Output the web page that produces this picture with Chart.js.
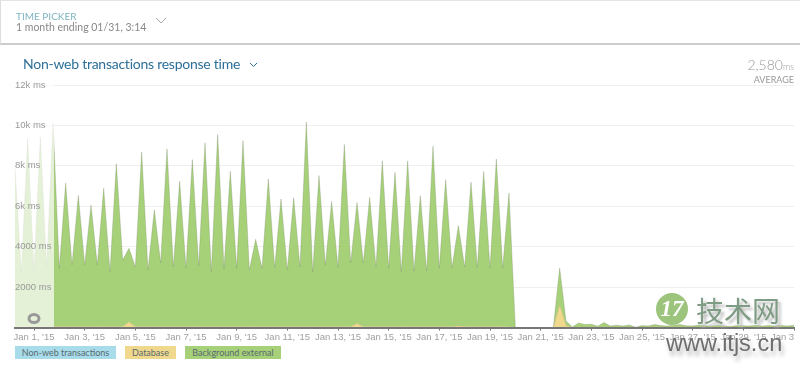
<!DOCTYPE html>
<html>
<head>
<meta charset="utf-8">
<title>Non-web transactions response time</title>
<script src="https://cdn.jsdelivr.net/npm/chart.js@4/dist/chart.umd.min.js"></script>
<style>
  html, body { margin: 0; padding: 0; background: #fff; }
  body { width: 800px; height: 365px; position: relative; overflow: hidden; font-family: Lato, sans-serif; }
  #chart { position: absolute; left: 0; top: 0; }
  .abs { position: absolute; white-space: nowrap; }
  #picker { left: 0; top: 0; width: 800px; height: 42px; border-top: 1px solid #e4e4e4; border-left: 1px solid #ddd; border-bottom: 2px solid #ccc; }
  #legend span { position: absolute; top: 346px; height: 13px; line-height: 13px; font-size: 9px; text-align: center; color: #5a6a70; }
  svg { position: absolute; fill: none; }
</style>
</head>
<body>
<canvas id="chart" width="800" height="365"></canvas>

<div class="abs" id="picker"></div>
<div class="abs" style="left:16px;top:10px;font-size:10px;color:#7fb4c0;">TIME PICKER</div>
<div class="abs" style="left:16px;top:21px;font-size:10.5px;color:#888;">1 month ending 01/31, 3:14</div>
<svg style="left:155px;top:17px;" width="12" height="7"><polyline points="1,1 6,6 11,1" stroke="#aaa"/></svg>

<div class="abs" style="left:23px;top:55px;font-size:14px;letter-spacing:-0.25px;color:#2d6f98;">Non-web transactions response time</div>
<svg style="left:249px;top:62px;" width="9" height="6"><polyline points="1,1 4.5,4.5 8,1" stroke="#2d6f98"/></svg>

<div class="abs" style="right:6px;top:56px;font-size:14px;font-weight:300;color:#999;">2,580<span style="font-size:9px;">ms</span></div>
<div class="abs" style="right:6px;top:74px;font-size:9px;color:#999;">AVERAGE</div>

<div id="legend"></div>

<!-- last tick label is cut at the panel edge -->
<div class="abs" style="left:795px;top:330px;width:5px;height:14px;background:#fff;"></div>

<!-- site watermark -->
<div class="abs" style="left:656px;top:293px;width:32px;height:32px;border-radius:50%;background:#9cc47c;color:#fff;font:italic bold 23px/32px 'Liberation Serif',serif;text-align:center;">17</div>
<div class="abs" style="left:696px;top:294px;font:28px/32px 'Noto Sans CJK SC',sans-serif;color:#7f9c84;text-shadow:3px 3px 3px #bbb;">技术网</div>
<div class="abs" style="left:666px;top:329px;font:23.5px/28px 'Liberation Sans',sans-serif;color:#6f6f6f;text-shadow:2px 5px 4px #bbb;">www.itjs.cn</div>

<script>
// tick labels, one every 2 days
const tickLabels = ["Jan 1, '15", "Jan 3, '15", "Jan 5, '15", "Jan 7, '15", "Jan 9, '15", "Jan 11, '15",
  "Jan 13, '15", "Jan 15, '15", "Jan 17, '15", "Jan 19, '15", "Jan 21, '15", "Jan 23, '15",
  "Jan 25, '15", "Jan 27, '15", "Jan 29, '15", "Jan 31, '15"];

const seriesNames = ['Non-web transactions', 'Database', 'Background external'];
const seriesColors = ['#a8dcea', '#f0d98c', '#a6d179'];

// values in ms, one point every 6 hours
const backgroundExternal = [
  7860, 2720, 9300, 2760, 9380, 2960, 10090, 2890, 7110, 3060,
  6500, 3060, 6020, 3060, 6850, 2720, 8070, 3300, 3640, 2960,
  8640, 2810, 5790, 3160, 8800, 2960, 7200, 2890, 8270, 3020,
  9100, 2720, 9510, 2890, 7690, 2890, 9210, 2810, 4330, 2890,
  7310, 2920, 6320, 2810, 6380, 2960, 10130, 2710, 7480, 3060,
  6200, 2940, 9020, 3160, 5990, 3160, 6400, 2960, 8210, 2890,
  7640, 2720, 8210, 2760, 6480, 2760, 8930, 2890, 7280, 2920,
  4970, 2960, 7160, 2920, 7680, 2890, 8300, 2890, 6620, 0,
  0, 0, 0, 0, 0, 0, 1850, 230, 20, 200,
  120, 140, 50, 220, 60, 100, 60, 100, 10, 80,
  60, 120, 80, 60, 100, 120, 70, 60, 110, 70,
  60, 100, 60, 50, 90, 70, 60, 100, 60, 80,
  60, 90, 60, 100
];
const database = [
  40, 40, 40, 40, 40, 40, 40, 40, 40, 40,
  40, 40, 40, 40, 40, 40, 40, 40, 280, 40,
  40, 40, 40, 40, 40, 40, 40, 40, 40, 40,
  40, 40, 40, 40, 40, 40, 40, 40, 40, 40,
  40, 40, 40, 40, 40, 40, 40, 40, 40, 40,
  40, 40, 40, 40, 200, 40, 40, 40, 40, 40,
  40, 40, 40, 40, 40, 40, 40, 40, 40, 40,
  80, 40, 40, 40, 40, 40, 40, 40, 40, 0,
  0, 0, 0, 0, 0, 0, 1100, 100, 10, 30,
  30, 30, 20, 30, 20, 20, 20, 30, 10, 20,
  20, 30, 20, 20, 20, 30, 20, 20, 20, 20,
  20, 20, 20, 10, 20, 20, 20, 20, 20, 20,
  20, 20, 20, 20
];
const nonWeb = backgroundExternal.map(() => 0);

// first tick sits on the 4th point, then every 8 points
const categories = backgroundExternal.map((v, i) => (i - 3) % 8 === 0 && i >= 3 ? tickLabels[(i - 3) / 8] : '');

const yTicks = [2000, 4000, 6000, 8000, 10000, 12000];
const yTickLabels = ['2000 ms', '4000 ms', '6k ms', '8k ms', '10k ms', '12k ms'];

// legend
const legendBoxes = [[15, 101], [125, 51], [185, 96]];
document.getElementById('legend').innerHTML = seriesNames.map((name, i) =>
  `<span style="left:${legendBoxes[i][0]}px;width:${legendBoxes[i][1]}px;background:${seriesColors[i]}">${name}</span>`
).join('');

// the pale selected range with its handle
const selectionPlugin = {
  id: 'selection',
  afterDatasetsDraw(chart) {
    const { ctx, chartArea, scales } = chart;
    const right = scales.x.getPixelForValue(6) + 1;
    ctx.save();
    ctx.fillStyle = 'rgba(255,255,255,0.7)';
    ctx.fillRect(chartArea.left, chartArea.top, right - chartArea.left, chartArea.bottom - chartArea.top);
    ctx.strokeStyle = '#999';
    ctx.lineWidth = 3;
    ctx.beginPath();
    ctx.ellipse(scales.x.getPixelForValue(3), chartArea.bottom - 9, 5, 4, 0, 0, Math.PI * 2);
    ctx.stroke();
    ctx.restore();
  }
};

new Chart(document.getElementById('chart'), {
  type: 'line',
  plugins: [selectionPlugin],
  data: {
    labels: categories,
    datasets: [
      { label: seriesNames[0], data: nonWeb, backgroundColor: seriesColors[0], borderWidth: 0, fill: 'origin' },
      { label: seriesNames[1], data: database, backgroundColor: seriesColors[1], borderColor: '#c9b778', borderWidth: 0.5, fill: '-1' },
      { label: seriesNames[2], data: backgroundExternal, backgroundColor: seriesColors[2], borderColor: 'rgba(120,135,105,0.6)', borderWidth: 0.5, fill: '-1' }
    ]
  },
  options: {
    responsive: false,
    animation: false,
    layout: { padding: { left: 15, right: 6, top: 85, bottom: 21 } },
    elements: { point: { radius: 0 }, line: { tension: 0 } },
    plugins: { legend: { display: false }, tooltip: { enabled: false } },
    scales: {
      x: {
        offset: false,
        grid: { z: 1, drawOnChartArea: false, drawTicks: true, tickLength: 3, color: '#777' },
        border: { z: 1, display: true, color: '#777', width: 2 },
        afterBuildTicks(scale) {
          scale.ticks = scale.ticks.filter(t => categories[t.value] !== '');
        },
        afterFit(scale) {
          scale.paddingLeft = 0;
          scale.paddingRight = 0;
        },
        ticks: {
          z: 1,
          autoSkip: false,
          maxRotation: 0,
          padding: 1,
          color: '#a0a0a0',
          font: { family: 'Liberation Sans', size: 9.5 },
          callback(value) { return categories[value]; }
        }
      },
      y: {
        stacked: true,
        min: 0,
        max: 12000,
        grid: { color: '#efefef', drawTicks: false },
        border: { display: false },
        afterBuildTicks(scale) {
          scale.ticks = yTicks.map(v => ({ value: v }));
        },
        afterFit(scale) { scale.width = 0; },
        ticks: {
          z: 1,
          mirror: true,
          padding: 0,
          color: '#999',
          font: { family: 'Liberation Sans', size: 9.5 },
          callback(value) { return yTickLabels[yTicks.indexOf(value)]; }
        }
      }
    }
  }
});
</script>
</body>
</html>
